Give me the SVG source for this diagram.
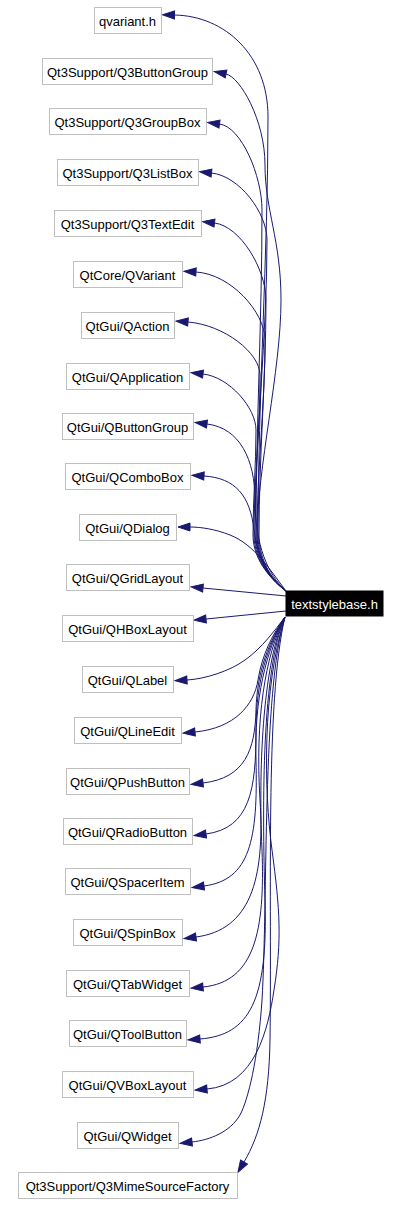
<svg xmlns="http://www.w3.org/2000/svg" width="401" height="1206" viewBox="0 0 401 1206">
<style>
.n rect{fill:#ffffff;stroke:#bfbfbf;stroke-width:1}
.n text{font-family:"Liberation Sans",Arial,Helvetica,sans-serif;font-size:13px;text-anchor:middle;fill:#000000}
.m rect{fill:#000000;stroke:#000000}
.m text{font-family:"Liberation Sans",Arial,Helvetica,sans-serif;font-size:13px;text-anchor:middle;fill:#ffffff}
.e path{fill:none;stroke:#191970;stroke-width:1;marker-end:url(#ah)}
</style>
<defs>
<marker id="ah" markerUnits="userSpaceOnUse" markerWidth="13" markerHeight="9" viewBox="0 0 13 9" refX="0" refY="4.5" orient="auto" overflow="visible">
<path d="M0,0.5 L12,4.5 L0,8.5 z" fill="#191970" stroke="#191970" stroke-width="1"/>
</marker>
</defs>
<rect x="0" y="0" width="401" height="1206" fill="#ffffff"/>
<g id="edges" class="e">
<path d="M286,591 C274,582 258,562 258,535 C258,395.7 268,256.3 268,117 C268,55 225,16 174.5,15"/>
<path d="M286,591 C274,582 257,562 257,535 C257,470 281,370 281,300 C281,240 265,210 265,165 C265,120 240,77 226,74"/>
<path d="M286,591 C274,582 256,562 256,535 C256,426.7 262,318.3 262,210 C262,176 241.5,127 219.5,124"/>
<path d="M286,591 C274,582 255,562 255,535 C255,436.7 267,338.3 267,240 C267,213 239.5,176 211.5,173"/>
<path d="M286,591 C274,582 259,562 259,535 C259,456.7 266,378.3 266,300 C266,269 240,226 214.5,223"/>
<path d="M286,591 C274,582 257,562 257,535 C257,470 265,405 265,340 C265,312 230.5,274 196,272"/>
<path d="M286,591 C274,582 254,562 254,535 C254,481.7 260,428.3 260,375 C260,353 224.5,325 188,322"/>
<path d="M286,591 C274,582 253,562 253,535 C253,500 256,465 256,430 C256,408 229.5,377 203,374"/>
<path d="M286,591 C268,575 255,545 255,500 C255,460 240,428 207,424"/>
<path d="M286,591 C268,578 258,560 254,530 C250,495 235,478 204,476"/>
<path d="M286,591 C270,570 255,545 230,535 C215,529 200,527 190,527"/>
<path d="M286,596 L203,588"/>
<path d="M286,611 L206,619"/>
<path d="M285,617 C275,630 262,648 245,660 C230,671 205,679 187,680"/>
<path d="M285,617 C272,635 262,655 258,680 C254,705 235,728 195,732"/>
<path d="M285,617 C270,640 257,670 256,710 C255,750 245,778 203,783"/>
<path d="M285,617 C268,645 256,680 256,730 C256,790 250,828 206,834"/>
<path d="M285,617 C266,650 254,700 256,760 C258,840 250,880 204,886"/>
<path d="M285,617 C265,655 255,720 260,800 C265,880 250,930 196,937"/>
<path d="M285,617 C264,660 258,760 262,850 C265,930 255,982 203,987"/>
<path d="M285,617 C262,670 262,800 265,900 C268,1000 250,1035 200,1039"/>
<path d="M285,617 C262,690 264,790 272,850 C280,910 282,940 274,990 C268,1030 255,1085 207,1089"/>
<path d="M285,617 C262,690 268,900 262,1000 C258,1060 248,1100 240,1115 C230,1132 210,1140 192,1142"/>
<path d="M285,617 C265,700 272,900 270,1040 C269,1100 260,1135 244,1162"/>
</g>
<g id="n0" class="n"><rect x="94.5" y="7.5" width="67" height="26"/><text x="127.5" y="25.5">qvariant.h</text></g>
<g id="n1" class="n"><rect x="42.5" y="58.5" width="170" height="26"/><text x="127.5" y="76.5">Qt3Support/Q3ButtonGroup</text></g>
<g id="n2" class="n"><rect x="49.5" y="108.5" width="157" height="26"/><text x="127.5" y="126.5">Qt3Support/Q3GroupBox</text></g>
<g id="n3" class="n"><rect x="57.5" y="159.5" width="141" height="26"/><text x="127.5" y="177.5">Qt3Support/Q3ListBox</text></g>
<g id="n4" class="n"><rect x="54.5" y="210.5" width="147" height="26"/><text x="127.5" y="228.5">Qt3Support/Q3TextEdit</text></g>
<g id="n5" class="n"><rect x="73.5" y="261.5" width="109" height="26"/><text x="127.5" y="279.5">QtCore/QVariant</text></g>
<g id="n6" class="n"><rect x="81.5" y="312.5" width="93" height="26"/><text x="127.5" y="330.5">QtGui/QAction</text></g>
<g id="n7" class="n"><rect x="66.5" y="363.5" width="123" height="26"/><text x="127.5" y="381.5">QtGui/QApplication</text></g>
<g id="n8" class="n"><rect x="62.5" y="413.5" width="131" height="26"/><text x="127.5" y="431.5">QtGui/QButtonGroup</text></g>
<g id="n9" class="n"><rect x="65.5" y="463.5" width="125" height="26"/><text x="127.5" y="481.5">QtGui/QComboBox</text></g>
<g id="n10" class="n"><rect x="79.5" y="514.5" width="97" height="26"/><text x="127.5" y="532.5">QtGui/QDialog</text></g>
<g id="n11" class="n"><rect x="66.5" y="564.5" width="123" height="26"/><text x="127.5" y="582.5">QtGui/QGridLayout</text></g>
<g id="main" class="m"><rect x="286" y="591" width="97" height="25"/><text x="334.5" y="608.5">textstylebase.h</text></g>
<g id="n12" class="n"><rect x="62.5" y="615.5" width="131" height="26"/><text x="127.5" y="633.5">QtGui/QHBoxLayout</text></g>
<g id="n13" class="n"><rect x="82.5" y="666.5" width="91" height="26"/><text x="127.5" y="684.5">QtGui/QLabel</text></g>
<g id="n14" class="n"><rect x="74.5" y="717.5" width="107" height="26"/><text x="127.5" y="735.5">QtGui/QLineEdit</text></g>
<g id="n15" class="n"><rect x="66.5" y="768.5" width="123" height="26"/><text x="127.5" y="786.5">QtGui/QPushButton</text></g>
<g id="n16" class="n"><rect x="63.5" y="818.5" width="129" height="26"/><text x="127.5" y="836.5">QtGui/QRadioButton</text></g>
<g id="n17" class="n"><rect x="65.5" y="868.5" width="125" height="26"/><text x="127.5" y="886.5">QtGui/QSpacerItem</text></g>
<g id="n18" class="n"><rect x="73.5" y="919.5" width="109" height="26"/><text x="127.5" y="937.5">QtGui/QSpinBox</text></g>
<g id="n19" class="n"><rect x="66.5" y="970.5" width="123" height="26"/><text x="127.5" y="988.5">QtGui/QTabWidget</text></g>
<g id="n20" class="n"><rect x="69.5" y="1020.5" width="117" height="26"/><text x="127.5" y="1038.5">QtGui/QToolButton</text></g>
<g id="n21" class="n"><rect x="62.5" y="1071.5" width="131" height="26"/><text x="127.5" y="1089.5">QtGui/QVBoxLayout</text></g>
<g id="n22" class="n"><rect x="77.5" y="1122.5" width="101" height="26"/><text x="127.5" y="1140.5">QtGui/QWidget</text></g>
<g id="n23" class="n"><rect x="18.5" y="1172.5" width="219" height="26"/><text x="127.5" y="1190.5">Qt3Support/Q3MimeSourceFactory</text></g>
</svg>
